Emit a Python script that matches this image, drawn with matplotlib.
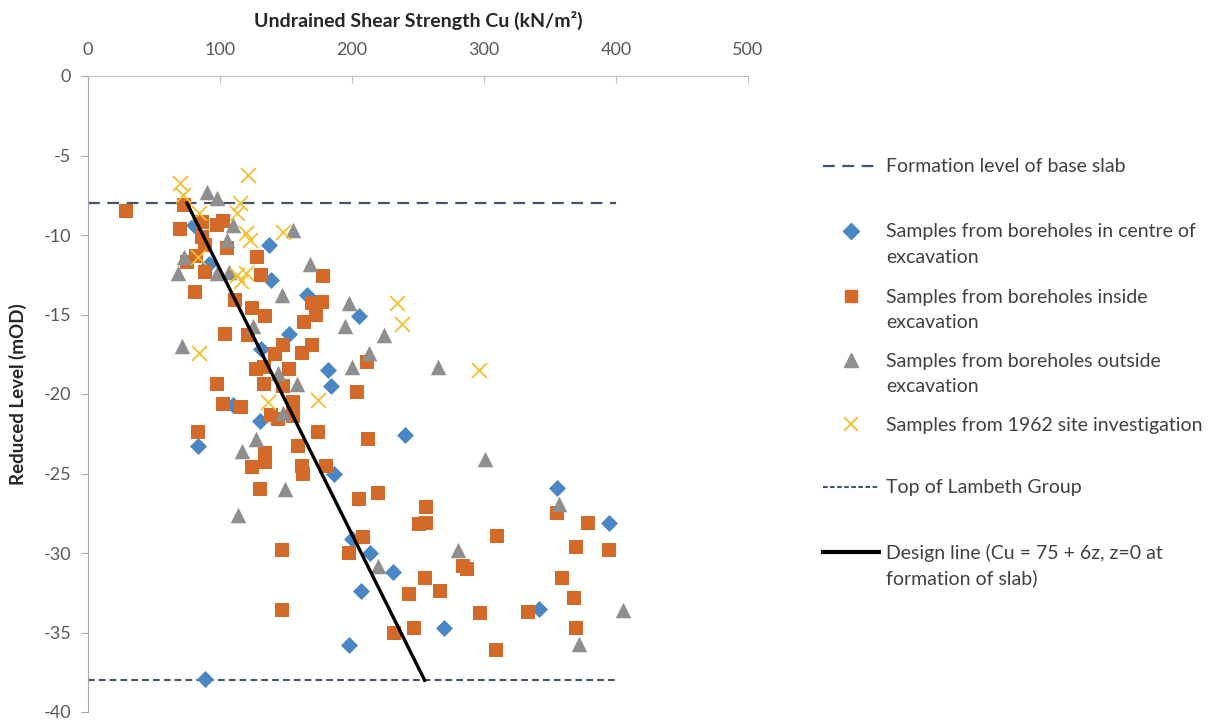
import numpy as np
import matplotlib
matplotlib.use("Agg")
import matplotlib.pyplot as plt
from matplotlib.lines import Line2D

plt.rcParams['font.family'] = ['Lato', 'DejaVu Sans']
plt.rcParams['axes.unicode_minus'] = False

# Cu (kN/m2) and reduced level (mOD) for each group of samples
centre_cu = [80, 137, 92, 139, 166, 205, 152, 131, 182, 184, 110, 130, 83, 240, 186,
             200, 214, 231, 207, 198, 89, 270, 355, 395, 342]
centre_rl = [-9.4, -10.6, -11.8, -12.8, -13.8, -15.1, -16.2, -17.2, -18.5, -19.5, -20.7, -21.7, -23.3, -22.6, -25.0,
             -29.1, -30.0, -31.2, -32.4, -35.8, -37.9, -34.7, -25.9, -28.1, -33.5]

inside_cu = [29, 73, 86, 70, 102, 98, 86, 89, 105, 82, 75, 89, 81, 128, 131, 111, 124, 134, 104, 121,
             178, 177, 170, 173, 164,
             148, 170, 142, 162, 133, 152, 127, 133, 148, 155, 139, 144, 155, 211, 204, 174, 212, 159,
             134, 134, 162, 163, 180, 130, 205, 220,
             98, 102, 116, 83, 124,
             256, 256, 251, 147, 208, 198, 284, 287, 255, 243, 267, 147, 232, 247, 297,
             355, 379, 310, 370, 395, 359, 368, 333, 370, 309]
inside_rl = [-8.5, -8.1, -9.2, -9.6, -9.1, -9.4, -10.1, -10.6, -10.8, -11.3, -11.7, -12.3, -13.6, -11.4, -12.5, -14.1, -14.6, -15.1, -16.2, -16.3,
             -12.6, -14.2, -14.3, -15.0, -15.5,
             -16.9, -16.9, -17.5, -17.4, -18.3, -18.4, -18.4, -19.4, -19.5, -20.5, -21.3, -21.6, -21.4, -18.0, -19.9, -22.4, -22.8, -23.3,
             -23.7, -24.3, -24.5, -25.0, -24.5, -26.0, -26.6, -26.2,
             -19.4, -20.6, -20.8, -22.4, -24.6,
             -27.1, -28.1, -28.2, -29.8, -29.0, -30.0, -30.8, -31.0, -31.6, -32.6, -32.4, -33.6, -35.0, -34.7, -33.8,
             -27.5, -28.1, -28.9, -29.6, -29.8, -31.6, -32.8, -33.7, -34.7, -36.1]

outside_cu = [90, 98, 110, 105, 155, 73, 68, 98, 107, 168, 147, 198, 125, 195, 224, 213,
              71, 200, 265, 144, 158, 148, 127, 117, 301, 149, 114, 280, 220, 357, 405, 372]
outside_rl = [-7.3, -7.7, -9.4, -10.3, -9.7, -11.4, -12.4, -12.4, -12.3, -11.8, -13.8, -14.3, -15.7, -15.7, -16.3, -17.4,
              -17.0, -18.3, -18.3, -18.7, -19.4, -21.2, -22.8, -23.6, -24.1, -26.0, -27.6, -29.8, -30.8, -26.9, -33.6, -35.7]

si1962_cu = [70, 72, 121, 84, 115, 113, 120, 123, 148, 83, 113, 120, 116, 234, 238, 296, 174, 84, 136]
si1962_rl = [-6.7, -7.5, -6.2, -8.6, -8.0, -8.6, -9.9, -10.3, -9.8, -11.4, -12.5, -12.4, -12.9, -14.3, -15.6, -18.5, -20.4, -17.4, -20.5]

# reference levels (mOD) and design line Cu = 75 + 6z, z measured below formation
formation_level = -8
lambeth_level = -38
level_line_cu = [0, 400]
design_cu0 = 75
design_rate = 6

x_ticks = [0, 100, 200, 300, 400, 500]
y_ticks = [0, -5, -10, -15, -20, -25, -30, -35, -40]

slate = '#44546A'
fig = plt.figure(figsize=(12.12, 7.23), dpi=100)
ax = fig.add_axes([88 / 1212, 1 - 712 / 723, 660 / 1212, 636 / 723])

ax.plot(level_line_cu, [formation_level] * 2, color=slate, lw=1.6,
        linestyle=(0, (5.3, 3.4)), zorder=1)
ax.plot(level_line_cu, [lambeth_level] * 2, color=slate, lw=1.5,
        linestyle=(0, (3.2, 2.0)), zorder=1)

ax.scatter(centre_cu, centre_rl, marker='D', s=75, color='#4A86C4', linewidths=0, zorder=2)
ax.scatter(inside_cu, inside_rl, marker='s', s=115, color='#D46A2A', linewidths=0, zorder=3)
ax.scatter(outside_cu, outside_rl, marker='^', s=125, color='#8F8F8F', linewidths=0, zorder=4)
ax.scatter(si1962_cu, si1962_rl, marker='x', s=115, color='#F2BF2E', linewidths=1.3, zorder=5)

z = np.array([0, formation_level - lambeth_level])
ax.plot(design_cu0 + design_rate * z, formation_level - z, color='black', lw=2.4, zorder=6)

ax.set_xlim(0, 500)
ax.set_ylim(-40, 0)
ax.set_xticks(x_ticks)
ax.set_yticks(y_ticks)
ax.set_yticklabels([str(t) for t in y_ticks])
ax.xaxis.tick_top()
ax.xaxis.set_label_position('top')
for side in ['right', 'bottom']:
    ax.spines[side].set_visible(False)
ax.spines['top'].set_color('#BFBFBF')
ax.spines['left'].set_color('#A6A6A6')
ax.tick_params(axis='x', direction='in', length=5, color='#BFBFBF',
               labelsize=13, labelcolor='#595959', pad=13)
ax.tick_params(axis='y', direction='out', length=5, color='#A6A6A6',
               labelsize=13, labelcolor='#595959', pad=7)
ax.set_xlabel('Undrained Shear Strength Cu (kN/m\u00b2)', fontsize=14,
              fontweight='bold', color='#262626', labelpad=11)
ax.set_ylabel('Reduced Level (mOD)', fontsize=13.5, fontweight='bold',
              color='#262626', labelpad=12)

# legend, one row at a time so the marker sits on the first line of its label
blank = Line2D([], [], linestyle='none')
rows = [
    (Line2D([], [], color=slate, lw=1.6, linestyle=(0, (5.3, 3.4))), 'Formation level of base slab', 167),
    (Line2D([], [], marker='D', markersize=8, color='#4A86C4', linestyle='none'),
     'Samples from boreholes in centre of', 232),
    (blank, 'excavation', 257),
    (Line2D([], [], marker='s', markersize=9, color='#D46A2A', linestyle='none'),
     'Samples from boreholes inside', 297),
    (blank, 'excavation', 322),
    (Line2D([], [], marker='^', markersize=10, color='#8F8F8F', linestyle='none'),
     'Samples from boreholes outside', 361),
    (blank, 'excavation', 386),
    (Line2D([], [], marker='x', markersize=10, mew=1.3, color='#F2BF2E', linestyle='none'),
     'Samples from 1962 site investigation', 425),
    (Line2D([], [], color=slate, lw=1.5, linestyle=(0, (2.2, 1.2))), 'Top of Lambeth Group', 488),
    (Line2D([], [], color='black', lw=3), 'Design line (Cu = 75 + 6z, z=0 at', 553),
    (blank, 'formation of slab)', 578),
]
for handle, label, ypix in rows:
    fig.legend([handle], [label], loc='center left',
               bbox_to_anchor=(823 / 1212, 1 - ypix / 723),
               frameon=False, fontsize=14, borderpad=0, borderaxespad=0,
               handlelength=2.9, handletextpad=0.33, labelcolor='#404040')

fig.savefig('out.png', dpi=100)
